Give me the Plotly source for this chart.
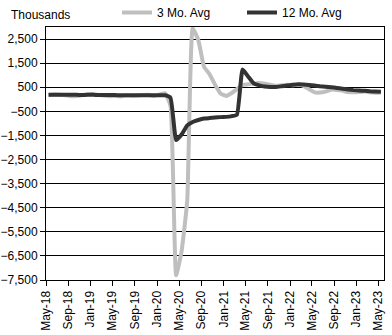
import pandas as pd
import plotly.graph_objects as go

# Monthly employment change, thousands (May-2018 .. May-2023)
start_month = "2018-05-01"
end_month = "2023-05-01"

avg_3mo = [
    # 2018 May-Dec
    180, 200, 190, 170, 130, 140, 170, 210,
    # 2019
    220, 180, 160, 130, 140, 120, 160, 150, 160, 180, 190, 140,
    # 2020
    200, 250, -270, -7300, -6300, -4200, 2950, 2450, 1350, 1050, 600, 240,
    # 2021
    140, 260, 420, 600, 620, 660, 680, 650, 600, 560, 580, 600,
    # 2022
    580, 600, 560, 420, 290, 280, 320, 400, 390, 360, 300, 290,
    # 2023 Jan-May
    300, 320, 290, 270, 280,
]

avg_12mo = [
    # 2018 May-Dec
    190, 190, 190, 185, 185, 185, 180, 185,
    # 2019
    185, 180, 180, 175, 175, 170, 170, 170, 170, 170, 170, 170,
    # 2020
    170, 165, 60, -1690, -1460, -1080, -940, -860, -800, -780, -760, -740,
    # 2021
    -730, -700, -640, 1240, 950, 660, 580, 530, 510, 510, 540, 570,
    # 2022
    600, 620, 610, 590, 570, 540, 520, 500, 470, 440, 410, 380,
    # 2023 Jan-May
    360, 350, 330, 320, 310,
]

series_names = ["3 Mo. Avg", "12 Mo. Avg"]
y_ticks = [-7500, -6500, -5500, -4500, -3500, -2500, -1500, -500, 500, 1500, 2500]

# monthly observations sit mid-month between the month-start ticks
months = pd.date_range(start_month, end_month, freq="MS") + pd.Timedelta(days=14)
x_ticks = pd.date_range(start_month, end_month, freq="4MS")

FONT = "Liberation Sans, Arial, sans-serif"

fig = go.Figure()
fig.add_trace(go.Scatter(
    x=months, y=avg_3mo, name=series_names[0], mode="lines",
    line=dict(color="#BFBFBF", width=4, shape="spline", smoothing=0.4),
))
fig.add_trace(go.Scatter(
    x=months, y=avg_12mo, name=series_names[1], mode="lines",
    line=dict(color="#333333", width=4, shape="spline", smoothing=0.4),
))

fig.update_layout(
    width=392, height=335,
    margin=dict(l=46, r=8, t=27, b=55, autoexpand=False),
    paper_bgcolor="white", plot_bgcolor="white",
    font=dict(family=FONT, size=12, color="black"),
    showlegend=True,
    legend=dict(
        orientation="h", x=0.21, xanchor="left", y=1.0, yanchor="bottom",
        font=dict(size=12), bgcolor="rgba(0,0,0,0)",
        entrywidth=80, entrywidthmode="pixels",
        tracegroupgap=0, itemwidth=30,
    ),
    annotations=[dict(
        text="Thousands", xref="paper", yref="paper", x=-0.11, y=1.0,
        xanchor="left", yanchor="bottom", showarrow=False,
        font=dict(size=12), yshift=3,
    )],
)

fig.update_xaxes(
    type="date", automargin=False,
    range=[start_month, "2023-06-01"],
    tickvals=x_ticks, tickformat="%b-%y", tickangle=-90,
    ticks="outside", ticklen=5, tickcolor="black",
    showgrid=False, showline=True, linecolor="black", linewidth=1, mirror=True,
    zeroline=False,
)
fig.update_yaxes(
    automargin=False,
    range=[-7500, 3000],
    tickvals=y_ticks, tickformat=",",
    ticks="outside", ticklen=5, tickcolor="black",
    showgrid=True, gridcolor="black", gridwidth=1,
    showline=True, linecolor="black", linewidth=1, mirror=True,
    zeroline=False,
)

fig.write_html("out.html")
